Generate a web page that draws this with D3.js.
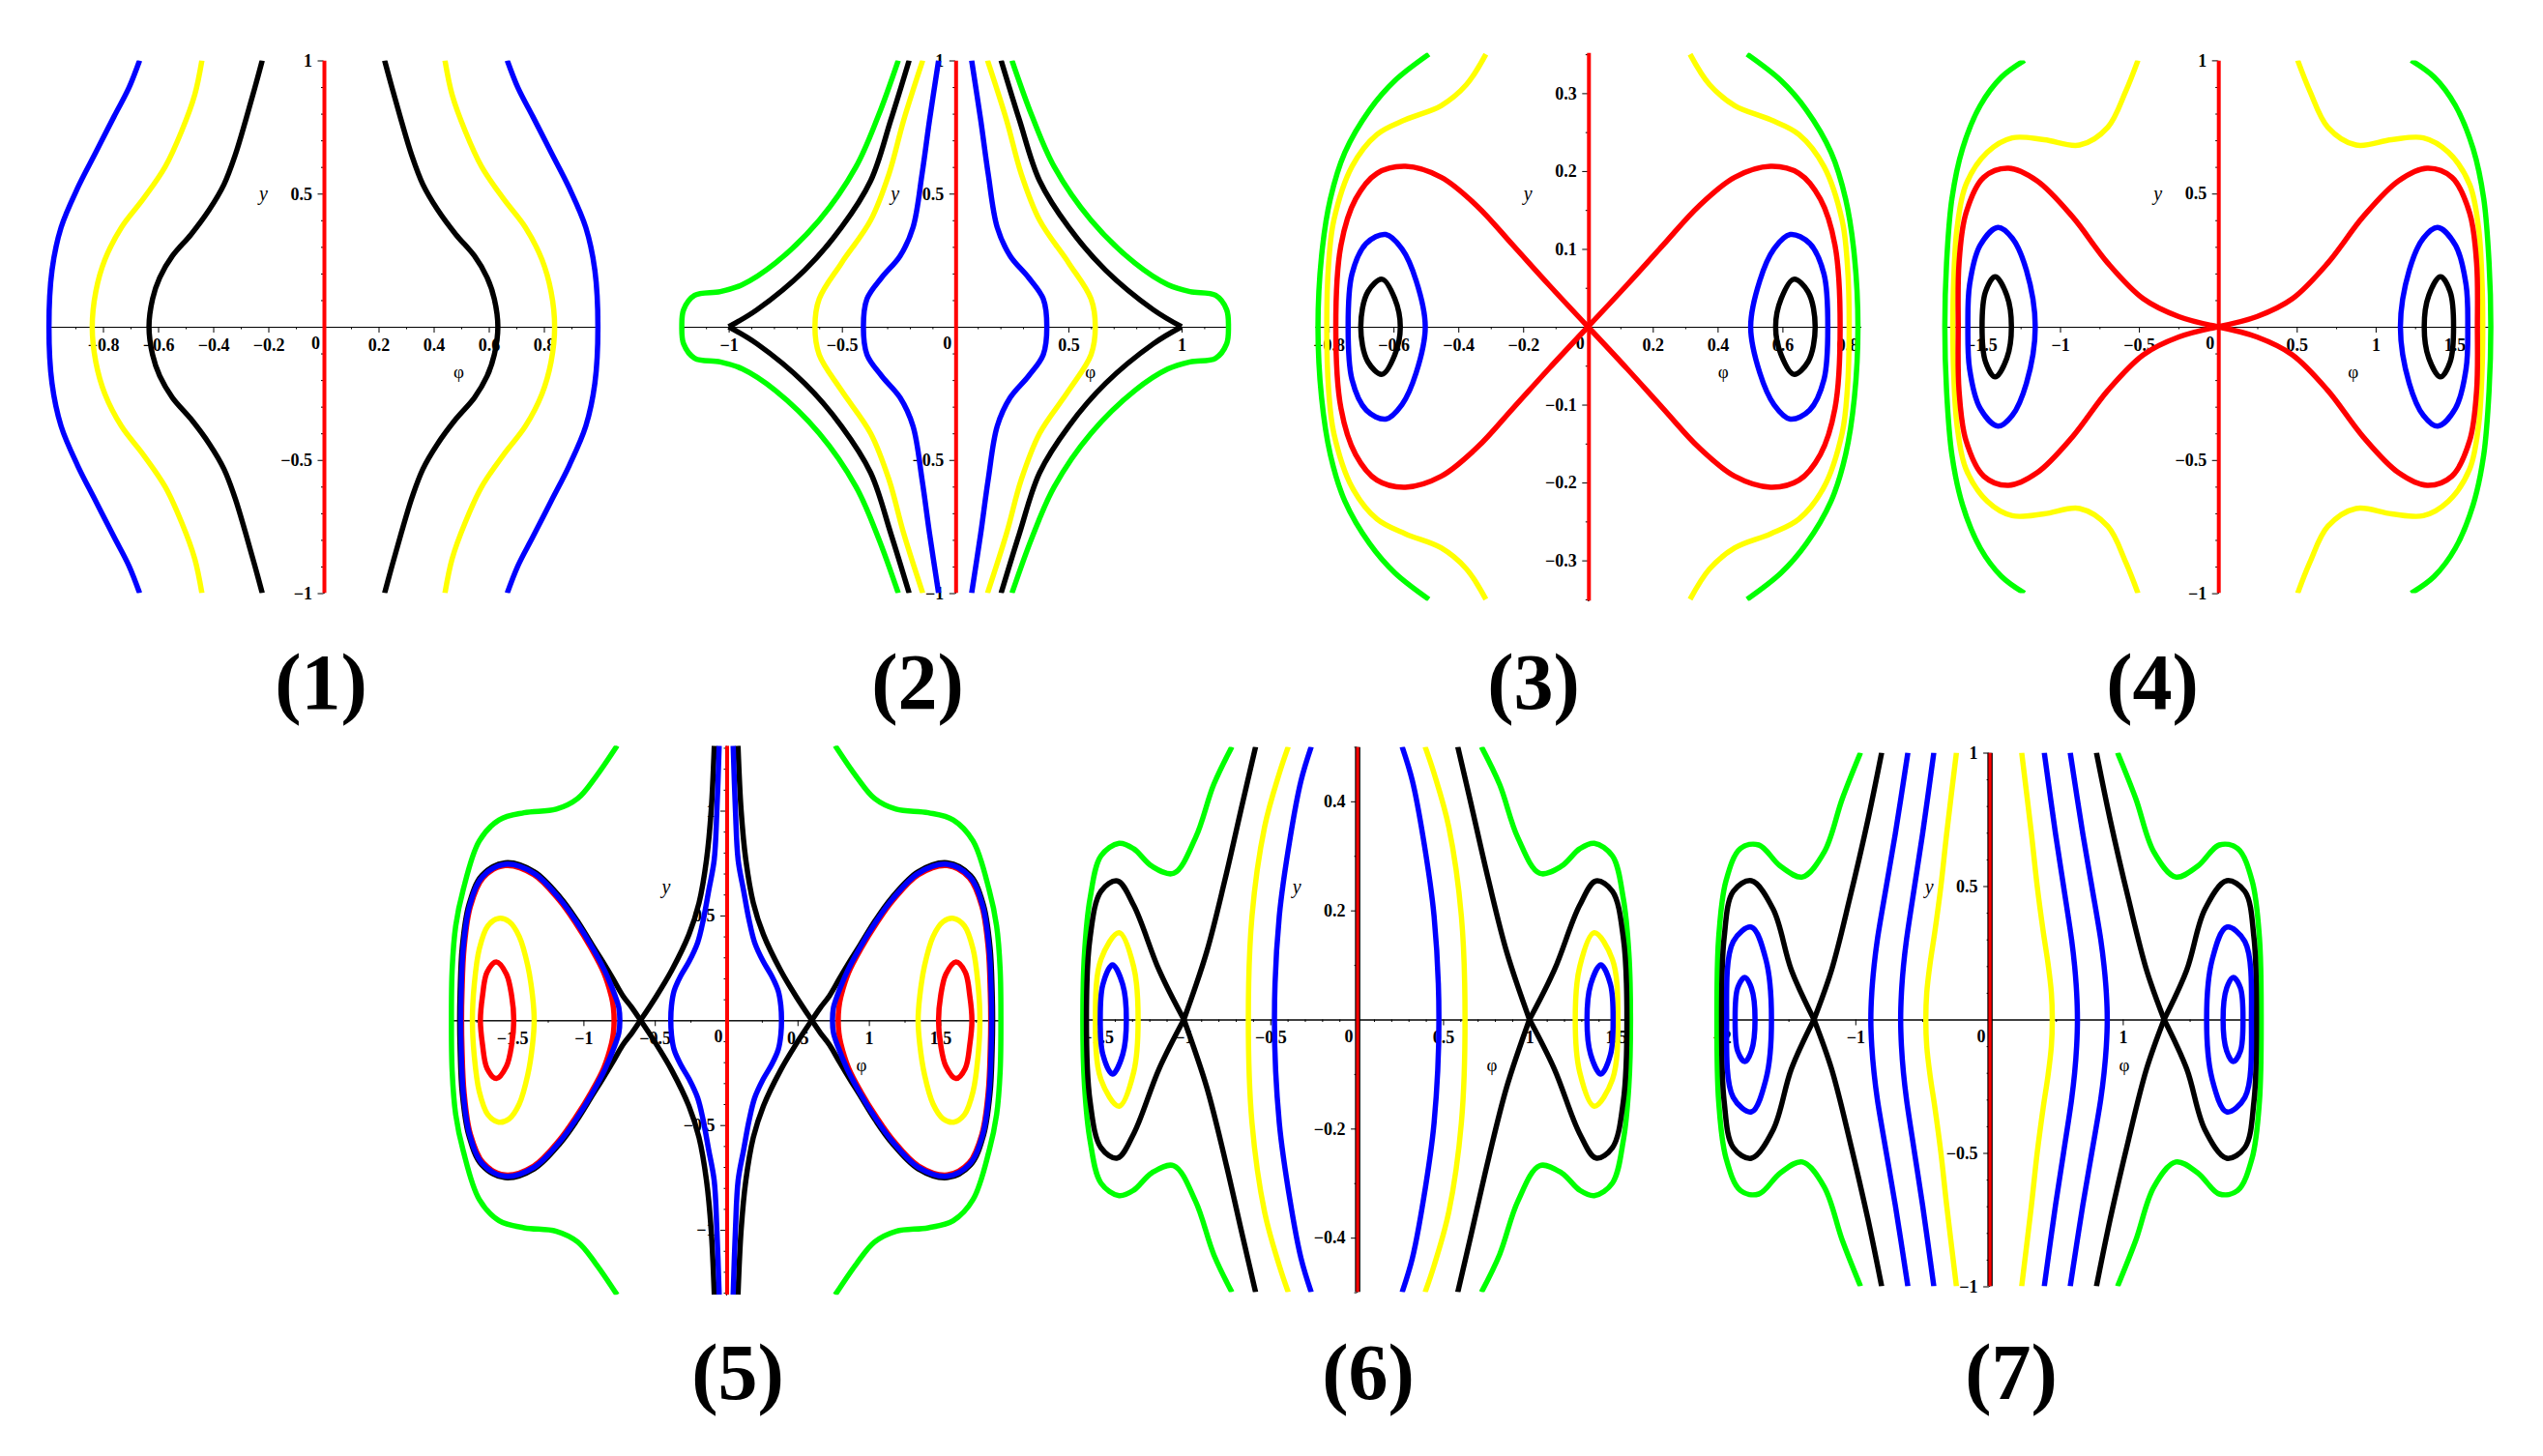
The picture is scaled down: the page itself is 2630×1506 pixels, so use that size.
<!DOCTYPE html>
<html>
<head>
<meta charset="utf-8">
<script src="https://cdn.jsdelivr.net/npm/d3@7"></script>
<style>
  html, body { margin: 0; padding: 0; background: #fff; }
  svg { display: block; }
  .tick text { font-family: "Liberation Serif", "Times New Roman", serif; font-weight: bold; font-size: 18px; }
  .lab { font-family: "Liberation Serif", "Times New Roman", serif; }
</style>
</head>
<body>
<div id="chart"></div>
<script>
// -------------------- DATA --------------------
// upper half (y >= 0) of each right-hand curve, [phi, y]; the plots are mirror
// symmetric in both axes so the rest is reflected when drawn

// (1)
const p1Black  = [[0.633,0],[0.62,0.105],[0.594,0.185],[0.548,0.266],[0.481,0.346],[0.414,0.44],[0.361,0.534],[0.321,0.642],[0.282,0.776],[0.249,0.897],[0.222,1.0]];
const p1Yellow = [[0.839,0],[0.826,0.132],[0.793,0.252],[0.733,0.373],[0.653,0.481],[0.574,0.601],[0.514,0.736],[0.467,0.871],[0.441,1.0]];
const p1Blue   = [[0.996,0],[0.985,0.212],[0.952,0.373],[0.892,0.521],[0.826,0.655],[0.76,0.789],[0.706,0.897],[0.667,1.0]];

// (2)
const p2Blue   = [[0.405,0],[0.389,0.105],[0.324,0.185],[0.243,0.266],[0.186,0.373],[0.146,0.574],[0.113,0.776],[0.073,1.0]];
const p2Yellow = [[0.619,0],[0.600,0.105],[0.502,0.239],[0.373,0.40],[0.292,0.574],[0.227,0.776],[0.143,1.0]];
const p2Black  = [[1.0,0],[0.875,0.064],[0.665,0.212],[0.502,0.373],[0.373,0.548],[0.284,0.776],[0.203,1.0]];
const p2Green  = [[1.207,0],[1.199,0.064],[1.15,0.118],[1.037,0.132],[0.94,0.158],[0.794,0.239],[0.6,0.40],[0.438,0.60],[0.34,0.79],[0.251,1.0]];

// (3)
const p3Red    = [[0,0],[0.121,0.054],[0.232,0.105],[0.342,0.155],[0.453,0.192],[0.563,0.206],[0.651,0.197],[0.717,0.164],[0.762,0.105],[0.778,0]];
const p3Blue   = [[0.502,0],[0.53,0.059],[0.574,0.1],[0.624,0.1185],[0.684,0.107],[0.728,0.068],[0.74,0]];
const p3Black  = [[0.579,0],[0.596,0.036],[0.635,0.061],[0.679,0.045],[0.701,0]];
const p3Yellow = [[0.806,0],[0.8,0.082],[0.784,0.137],[0.728,0.206],[0.651,0.247],[0.563,0.266],[0.453,0.284],[0.375,0.311],[0.315,0.35]];
const p3Green  = [[0.833,0],[0.822,0.091],[0.795,0.164],[0.75,0.224],[0.673,0.279],[0.596,0.316],[0.491,0.35]];

// (4)
const p4Red    = [[0,0],[0.247,0.038],[0.472,0.105],[0.697,0.239],[0.921,0.413],[1.146,0.548],[1.326,0.595],[1.483,0.561],[1.596,0.427],[1.64,0.239],[1.645,0]];
const p4Blue   = [[1.157,0],[1.213,0.212],[1.303,0.333],[1.393,0.373],[1.506,0.306],[1.573,0.158],[1.584,0]];
const p4Black  = [[1.308,0],[1.337,0.118],[1.411,0.188],[1.472,0.132],[1.494,0]];
const p4Yellow = [[1.679,0],[1.674,0.172],[1.652,0.373],[1.596,0.534],[1.461,0.655],[1.303,0.709],[1.101,0.702],[0.876,0.682],[0.697,0.749],[0.584,0.883],[0.506,1.0]];
const p4Green  = [[1.73,0],[1.719,0.239],[1.685,0.481],[1.618,0.668],[1.506,0.83],[1.371,0.937],[1.225,1.0]];

// (5)
const p5Red        = [[1.488,0],[1.503,0.117],[1.54,0.22],[1.61,0.278],[1.675,0.23],[1.707,0.117],[1.722,0]];
const p5RedLoop    = [[0.785,0],[0.79,0.06],[0.803,0.11],[0.858,0.228],[0.944,0.341],[1.055,0.464],[1.169,0.572],[1.348,0.695],[1.549,0.738],[1.703,0.68],[1.792,0.544],[1.836,0.347],[1.851,0.132],[1.854,0]];
const p5Yellow     = [[1.345,0],[1.357,0.117],[1.39,0.26],[1.45,0.4],[1.52,0.47],[1.594,0.486],[1.67,0.45],[1.73,0.34],[1.765,0.17],[1.778,0]];
const p5BlueLoop   = [[0.745,0],[0.752,0.06],[0.78,0.12],[0.85,0.235],[0.938,0.347],[1.05,0.47],[1.165,0.578],[1.346,0.701],[1.549,0.744],[1.707,0.685],[1.797,0.547],[1.842,0.347],[1.857,0.132],[1.86,0]];
const p5BlueInner  = [[0.388,0],[0.383,0.07],[0.365,0.14],[0.32,0.21],[0.26,0.28],[0.2,0.37],[0.16,0.48],[0.122,0.62],[0.084,0.764],[0.065,1.0],[0.049,1.31]];
const p5BlackLoop  = [[0.6,0],[0.66,0.06],[0.724,0.117],[0.795,0.2],[0.87,0.285],[0.932,0.352],[1.044,0.475],[1.16,0.584],[1.344,0.708],[1.549,0.751],[1.712,0.69],[1.803,0.549],[1.849,0.347],[1.864,0.132],[1.867,0]];
const p5BlackInner = [[0.6,0],[0.487,0.117],[0.38,0.24],[0.261,0.409],[0.19,0.56],[0.138,0.764],[0.105,1.0],[0.083,1.31]];
const p5Green      = [[1.925,0],[1.92,0.24],[1.895,0.45],[1.842,0.624],[1.73,0.855],[1.591,0.956],[1.416,0.99],[1.19,1.007],[1.04,1.058],[0.915,1.16],[0.764,1.31]];

// (6)
const p6Blue        = [[1.333,0],[1.354,0.064],[1.413,0.1],[1.469,0.064],[1.484,0]];
const p6Yellow      = [[1.265,0],[1.291,0.097],[1.375,0.159],[1.48,0.11],[1.512,0]];
const p6BlackLoop   = [[1.0,0],[1.143,0.09],[1.29,0.209],[1.385,0.254],[1.48,0.235],[1.543,0.15],[1.564,0]];
const p6BlackInner  = [[1.0,0],[0.869,0.123],[0.764,0.254],[0.659,0.399],[0.585,0.5]];
const p6BlueOuter   = [[0.476,0],[0.448,0.189],[0.385,0.333],[0.322,0.438],[0.263,0.5]];
const p6YellowOuter = [[0.627,0],[0.606,0.189],[0.533,0.353],[0.448,0.451],[0.396,0.5]];
const p6Green       = [[1.585,0],[1.575,0.123],[1.543,0.222],[1.48,0.3],[1.375,0.323],[1.291,0.313],[1.185,0.281],[1.059,0.268],[0.933,0.333],[0.827,0.431],[0.722,0.5]];

// (7)
const p7BlueSmall  = [[1.75,0],[1.777,0.118],[1.826,0.158],[1.88,0.118],[1.899,0]];
const p7BlueMid    = [[1.627,0],[1.669,0.225],[1.777,0.346],[1.913,0.292],[1.962,0]];
const p7BlackLoop  = [[1.309,0],[1.478,0.185],[1.614,0.413],[1.777,0.52],[1.913,0.48],[1.981,0.306],[2.0,0]];
const p7BlackInner = [[1.309,0],[1.178,0.185],[1.042,0.453],[0.906,0.748],[0.803,1.0]];
const p7BlueA      = [[0.884,0],[0.877,0.1],[0.86,0.2],[0.835,0.3],[0.768,0.5],[0.701,0.696],[0.607,1.0]];
const p7BlueB      = [[0.661,0],[0.655,0.1],[0.64,0.2],[0.617,0.3],[0.557,0.5],[0.497,0.696],[0.413,1.0]];
const p7Yellow     = [[0.473,0],[0.466,0.1],[0.44,0.213],[0.405,0.33],[0.36,0.5],[0.317,0.696],[0.244,1.0]];
const p7Green      = [[2.035,0],[2.022,0.306],[1.967,0.52],[1.859,0.641],[1.722,0.654],[1.559,0.574],[1.396,0.534],[1.233,0.627],[1.097,0.828],[0.961,1.0]];

// labelled ticks
const p1XTicks = [-0.8,-0.6,-0.4,-0.2,0.2,0.4,0.6,0.8], p1YTicks = [-1,-0.5,0.5,1];
const p2XTicks = [-1,-0.5,0.5,1],                       p2YTicks = [-1,-0.5,0.5,1];
const p3XTicks = [-0.8,-0.6,-0.4,-0.2,0.2,0.4,0.6,0.8], p3YTicks = [-0.3,-0.2,-0.1,0.1,0.2,0.3];
const p4XTicks = [-1.5,-1,-0.5,0.5,1,1.5],              p4YTicks = [-1,-0.5,0.5,1];
const p5XTicks = [-1.5,-1,-0.5,0.5,1,1.5],              p5YTicks = [-1,-0.5,0.5,1];
const p6XTicks = [-1.5,-1,-0.5,0.5,1,1.5],              p6YTicks = [-0.4,-0.2,0.2,0.4];
const p7XTicks = [-2,-1,1,2],                           p7YTicks = [-1,-0.5,0.5,1];

const panelNames = ["(1)","(2)","(3)","(4)","(5)","(6)","(7)"];

// -------------------- LAYOUT --------------------
const colors = { red:"#ff0000", blue:"#0000ff", yellow:"#ffff00", green:"#00ff00", black:"#000000" };

// kind: branch = crosses the phi axis, oval = closed orbit, lobe = loop from a
// saddle, cusp = two arcs meeting at a corner on the phi axis
const panels = [
  { cx:334.5, cy:338, ux:285, uy:275.5, xMax:1, yMax:1, xStep:0.1, yStep:0.1, xTicks:p1XTicks, yTicks:p1YTicks, name:[332,733], edged:false,
    curves:[ [p1Black,"black","branch"], [p1Yellow,"yellow","branch"], [p1Blue,"blue","branch"] ] },
  { cx:987.8, cy:338, ux:234.2, uy:275.5, xMax:1.2, yMax:1, xStep:0.1, yStep:0.1, xTicks:p2XTicks, yTicks:p2YTicks, name:[949,733], edged:false,
    curves:[ [p2Green,"green","branch"], [p2Black,"black","cusp"], [p2Yellow,"yellow","branch"], [p2Blue,"blue","branch"] ] },
  { cx:1642.3, cy:338, ux:335.2, uy:805.4, xMax:0.842, yMax:0.352, xStep:0.1, yStep:0.05, xTicks:p3XTicks, yTicks:p3YTicks, name:[1586,733], edged:false,
    curves:[ [p3Green,"green","branch"], [p3Yellow,"yellow","branch"], [p3Red,"red","lobe"], [p3Blue,"blue","oval"], [p3Black,"black","oval"] ] },
  { cx:2293.7, cy:338, ux:163.2, uy:275.6, xMax:1.735, yMax:1, xStep:0.25, yStep:0.1, xTicks:p4XTicks, yTicks:p4YTicks, name:[2226,733], edged:false,
    curves:[ [p4Green,"green","branch"], [p4Yellow,"yellow","branch"], [p4Red,"red","lobe"], [p4Blue,"blue","oval"], [p4Black,"black","oval"] ] },
  { cx:751, cy:1055.3, ux:147.6, uy:216.8, xMax:1.917, yMax:1.31, xStep:0.25, yStep:0.1, xTicks:p5XTicks, yTicks:p5YTicks, name:[763,1447], edged:false,
    curves:[ [p5Green,"green","branch"], [p5Yellow,"yellow","oval"], [p5Red,"red","oval"], [p5RedLoop,"red","oval"],
             [p5BlackLoop,"black","lobe"], [p5BlackInner,"black","cusp"], [p5BlueLoop,"blue","oval"], [p5BlueInner,"blue","branch"] ] },
  { cx:1403.1, cy:1054.5, ux:178.7, uy:564.2, xMax:1.585, yMax:0.5, xStep:0.1, yStep:0.1, xTicks:p6XTicks, yTicks:p6YTicks, name:[1415,1447], edged:true,
    curves:[ [p6Green,"green","branch"], [p6BlackLoop,"black","lobe"], [p6BlackInner,"black","cusp"], [p6Yellow,"yellow","oval"],
             [p6YellowOuter,"yellow","branch"], [p6Blue,"blue","oval"], [p6BlueOuter,"blue","branch"] ] },
  { cx:2057.1, cy:1054.5, ux:138.3, uy:276, xMax:2.04, yMax:1, xStep:0.5, yStep:0.1, xTicks:p7XTicks, yTicks:p7YTicks, name:[2080,1447], edged:true,
    curves:[ [p7Green,"green","branch"], [p7BlackLoop,"black","lobe"], [p7BlackInner,"black","cusp"], [p7Yellow,"yellow","branch"],
             [p7BlueA,"blue","branch"], [p7BlueB,"blue","branch"], [p7BlueMid,"blue","oval"], [p7BlueSmall,"blue","oval"] ] }
];

const svg = d3.select("#chart").append("svg")
  .attr("width", 2630)
  .attr("height", 1506);

const openLine = d3.line().curve(d3.curveCatmullRom.alpha(0.5));
const closedLine = d3.line().curve(d3.curveCatmullRomClosed.alpha(0.5));
const flipY = ([a, b]) => [a, -b];
const flipX = ([a, b]) => [-a, b];
const fmt = d3.format("");

// minor tick positions, without the labelled ones and the origin
function minorTicks(max, step, major) {
  const n = Math.floor(max / step + 1e-9);
  return d3.range(-n, n + 1)
    .map(k => +(k * step).toFixed(4))
    .filter(v => v !== 0 && !major.includes(v));
}

// whole curves (as [points, closed]) built from the stored upper half
function pieces(pts, kind) {
  if (kind === "branch") return [[pts.slice().reverse().concat(pts.slice(1).map(flipY)), false]];
  if (kind === "oval")   return [[pts.concat(pts.slice(1, -1).reverse().map(flipY)), true]];
  if (kind === "lobe")   return [[pts.concat(pts.slice(0, -1).reverse().map(flipY)), false]];
  return [[pts, false], [pts.map(flipY), false]];
}

panels.forEach((p, i) => {
  const x = d3.scaleLinear()
    .domain([-p.xMax, p.xMax])
    .range([p.cx - p.xMax * p.ux, p.cx + p.xMax * p.ux]);
  const y = d3.scaleLinear()
    .domain([-p.yMax, p.yMax])
    .range([p.cy + p.yMax * p.uy, p.cy - p.yMax * p.uy]);

  const g = svg.append("g");

  // axes through the origin
  g.append("g")
    .attr("transform", `translate(0,${y(0)})`)
    .call(d3.axisBottom(x).tickValues(minorTicks(p.xMax, p.xStep, p.xTicks)).tickSize(2.5).tickSizeOuter(0).tickFormat(""));
  g.append("g")
    .attr("transform", `translate(0,${y(0)})`)
    .call(d3.axisBottom(x).tickValues(p.xTicks).tickSize(6).tickSizeOuter(0).tickPadding(6).tickFormat(fmt));
  g.append("g")
    .attr("transform", `translate(${x(0)},0)`)
    .call(d3.axisLeft(y).tickValues(minorTicks(p.yMax, p.yStep, p.yTicks)).tickSize(2.5).tickSizeOuter(0).tickFormat(""));
  g.append("g")
    .attr("transform", `translate(${x(0)},0)`)
    .call(d3.axisLeft(y).tickValues(p.yTicks).tickSize(6).tickSizeOuter(0).tickPadding(5.5).tickFormat(fmt));

  g.append("text").attr("class", "lab")
    .attr("x", x(0) - 8).attr("y", y(0) + 23)
    .attr("text-anchor", "middle")
    .style("font-size", "18px").style("font-weight", "bold")
    .text("0");
  g.append("text").attr("class", "lab")
    .attr("x", x(0) + 140).attr("y", y(0) + 53)
    .attr("text-anchor", "middle")
    .style("font-size", "19px")
    .text("φ");
  g.append("text").attr("class", "lab")
    .attr("x", x(0) - 62).attr("y", y(0) - 131)
    .attr("text-anchor", "middle")
    .style("font-size", "20px").style("font-style", "italic")
    .text("y");

  // clip to the plotted y range
  svg.append("clipPath").attr("id", "clip" + i)
    .append("rect")
    .attr("x", x(-p.xMax) - 10).attr("y", y(p.yMax))
    .attr("width", x(p.xMax) - x(-p.xMax) + 20)
    .attr("height", y(-p.yMax) - y(p.yMax));

  const plot = g.append("g").attr("clip-path", `url(#clip${i})`);

  // the red phi = 0 line
  const axisPx = [[0, -p.yMax], [0, p.yMax]].map(d => [x(d[0]) + 1, y(d[1])]);
  if (p.edged) {
    plot.append("path")
      .attr("d", openLine(axisPx))
      .attr("fill", "none").attr("stroke", "#000").attr("stroke-width", 5.5);
  }
  plot.append("path")
    .attr("d", openLine(axisPx))
    .attr("fill", "none").attr("stroke", colors.red).attr("stroke-width", p.edged ? 3.2 : 4);

  p.curves.forEach(([pts, col, kind]) => {
    pieces(pts, kind).forEach(([full, closed]) => {
      [full, full.map(flipX)].forEach(side => {
        const px = side.map(d => [x(d[0]), y(d[1])]);
        plot.append("path")
          .attr("d", closed ? closedLine(px) : openLine(px))
          .attr("fill", "none")
          .attr("stroke", colors[col])
          .attr("stroke-width", 5.5)
          .attr("stroke-linejoin", "round");
      });
    });
  });

  svg.append("text").attr("class", "lab")
    .attr("x", p.name[0]).attr("y", p.name[1])
    .attr("text-anchor", "middle")
    .style("font-size", "82px").style("font-weight", "bold")
    .text(panelNames[i]);
});
</script>
</body>
</html>
